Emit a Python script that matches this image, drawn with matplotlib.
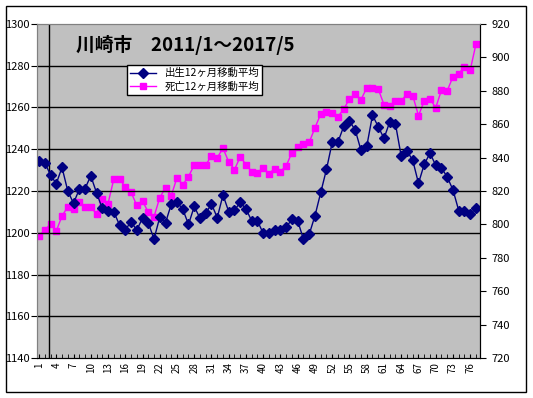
#川崎市 出生・死亡 12ヶ月移動平均

import matplotlib
matplotlib.use('Agg')
import matplotlib.pyplot as plt
import matplotlib.patches as patches
import numpy as np

plt.rcParams['font.family']=['Noto Sans CJK JP','DejaVu Sans']

#data
months=np.arange(1,78)
births=[1234.5,1233.6,1227.7,1223.5,1231.3,1220.1,1214.1,1220.8,1221.1,1227.3,
        1219.2,1211.7,1210.4,1210.1,1203.7,1201.3,1205.3,1201.3,1206.9,1204.8,
        1197.0,1207.4,1204.8,1213.6,1214.6,1211.3,1204.0,1212.6,1206.9,1209.3,
        1213.8,1207.2,1218.1,1210.1,1210.8,1214.6,1211.4,1205.6,1205.6,1199.7,
        1199.7,1201.2,1201.3,1202.6,1206.6,1205.6,1196.9,1199.3,1208.2,1219.3,
        1230.4,1243.4,1243.5,1251.0,1253.5,1249.2,1239.5,1241.4,1256.3,1250.8,
        1245.2,1253.1,1252.0,1236.6,1239.2,1234.7,1223.7,1232.8,1238.1,1232.3,
        1231.0,1226.7,1220.5,1210.6,1210.6,1209.1,1211.7]
deaths=[793.1,796.6,800.2,796.0,805.0,810.6,809.0,813.6,810.6,810.6,
        806.2,815.2,812.4,827.0,827.0,822.6,819.4,811.4,814.0,807.4,
        804.6,816.0,822.0,817.2,828.0,823.8,828.6,835.6,835.6,835.6,
        841.1,840.0,845.6,837.4,832.8,840.5,835.8,831.6,831.0,834.0,
        830.4,833.4,831.6,835.2,843.0,846.5,848.0,849.2,857.9,866.1,
        867.1,866.5,864.5,869.1,875.1,878.1,874.7,881.7,881.9,881.1,
        871.7,870.9,873.9,874.0,878.1,877.1,865.1,873.9,875.1,869.9,
        880.5,880.1,888.4,890.3,894.4,892.5,908.0]
xticks=np.arange(1,78,3)

fig=plt.figure(figsize=(5.33,3.98),dpi=100)
ax=fig.add_axes([0.0694,0.1005,0.8312,0.8392])

#outer frame of the chart
fig.patches.append(patches.Rectangle((0.0105,0.015),0.977,0.97,transform=fig.transFigure,
                                     fill=False,edgecolor='black',linewidth=1))

l1,=ax.plot(months,births,color='#000080',marker='D',markersize=5,linewidth=1,
            label='出生12ヶ月移動平均')
ax.set_ylim(1140,1300)
ax.set_yticks(np.arange(1140,1301,20))
ax.set_xlim(0.65,77.7)
ax.set_xticks(xticks)
ax.set_xticks(months,minor=True)
ax.set_xticklabels([str(t) for t in xticks],rotation=90,fontsize=7)
ax.tick_params(axis='x',which='both',direction='in',length=3,pad=3)
ax.tick_params(axis='y',direction='out',length=4,pad=1,labelsize=8)
for y in range(1160,1300,20):
    ax.axhline(y,color='black',linewidth=1,zorder=1)
ax.axvline(2.67,color='black',linewidth=1,zorder=1)

ax2=ax.twinx()
l2,=ax2.plot(months,deaths,color='#FF00FF',marker='s',markersize=4.5,linewidth=1,
             label='死亡12ヶ月移動平均')
ax2.set_ylim(720,920)
ax2.set_yticks(np.arange(720,921,20))
ax2.tick_params(axis='y',direction='out',length=4,pad=4,labelsize=8)

for a in (ax,ax2):
    a.spines['left'].set_color('#808080')
    a.spines['top'].set_color('#808080')
    a.spines['bottom'].set_color('black')
    a.spines['right'].set_color('black')

ax.text(0.334,0.937,'川崎市　2011/1～2017/5',transform=ax.transAxes,fontsize=13.5,
        fontweight='bold',ha='center',va='center')

leg=ax.legend(handles=[l1,l2],loc='upper left',bbox_to_anchor=(0.203,0.877),fontsize=7.5,
              frameon=True,fancybox=False,edgecolor='black',framealpha=1,
              borderpad=0.3,handlelength=2.5,labelspacing=0.3,borderaxespad=0)
leg.get_frame().set_linewidth(1)
leg.set_zorder(5)
ax.set_zorder(ax2.get_zorder()+1)
ax.patch.set_visible(False)
ax2.patch.set_visible(True)
ax2.patch.set_facecolor('#C0C0C0')

plt.savefig('out.png',dpi=100)
